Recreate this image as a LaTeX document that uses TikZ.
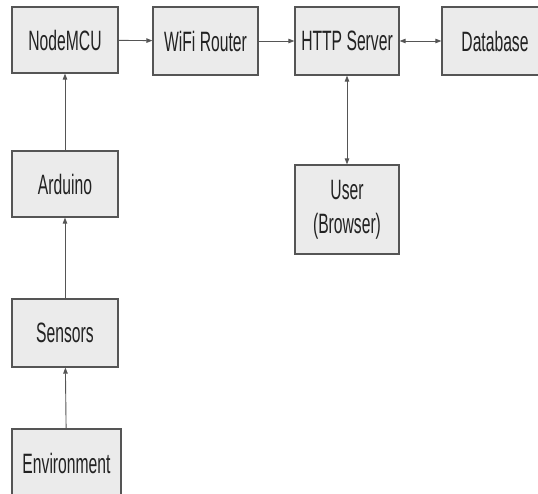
\documentclass[tikz,border=0pt]{standalone}
\usepackage{fontspec}
\setmainfont[FakeStretch=0.56]{Liberation Sans}
\usepackage{xcolor}
\usetikzlibrary{arrows.meta,positioning}
\definecolor{boxfill}{HTML}{EBEBEB}
\definecolor{boxline}{HTML}{555555}
\definecolor{txt}{HTML}{222222}
\tikzset{
  >={Triangle[length=6pt,width=4.5pt]},
  blk/.style   ={rectangle, draw=boxline, fill=boxfill, line width=1.2pt,
                 inner sep=0pt, font=\fontsize{28}{34}\selectfont,
                 text=txt, align=center},
  con/.style   ={->, draw=boxline, line width=0.9pt},
  biCon/.style ={<->, draw=boxline, line width=0.9pt},
}
\begin{document}
\begin{tikzpicture}[x=1pt,y=-1pt]
\clip (0,0) rectangle (538,494);
\useasboundingbox (0,0) rectangle (538,494);

% --- top row --------------------------------------------------------
\node[blk, minimum width=106pt, minimum height=66pt] (nodemcu)  at (65,40)    {NodeMCU};
\node[blk, minimum width=105pt, minimum height=68pt] (router)   at (205.5,41) {WiFi Router};
\node[blk, minimum width=104pt, minimum height=68pt] (server)   at (347,41)   {HTTP Server};
\node[blk, minimum width=106pt, minimum height=68pt] (database) at (495,41)   {Database};

% --- left column and user -------------------------------------------
\node[blk, minimum width=106pt, minimum height=66pt] (arduino)     at (65,184)   {Arduino};
\node[blk, minimum width=106pt, minimum height=68pt] (sensors)     at (65,333)   {Sensors};
\node[blk, minimum width=109pt, minimum height=68pt] (environment) at (66.5,463) {Environment};
\node[blk, minimum width=104pt, minimum height=89pt] (user)        at (347,209.5) {User\\(Browser)};

% --- flow -----------------------------------------------------------
\draw[con] (nodemcu) -- (router);
\draw[con] (router) -- (server);
\draw[biCon] (server) -- (database);
\draw[biCon] (server) -- (user);
\draw[con] (arduino) -- (nodemcu);
\draw[con] (sensors) -- (arduino);
\draw[con] (environment) -- (sensors);
\end{tikzpicture}
\end{document}
